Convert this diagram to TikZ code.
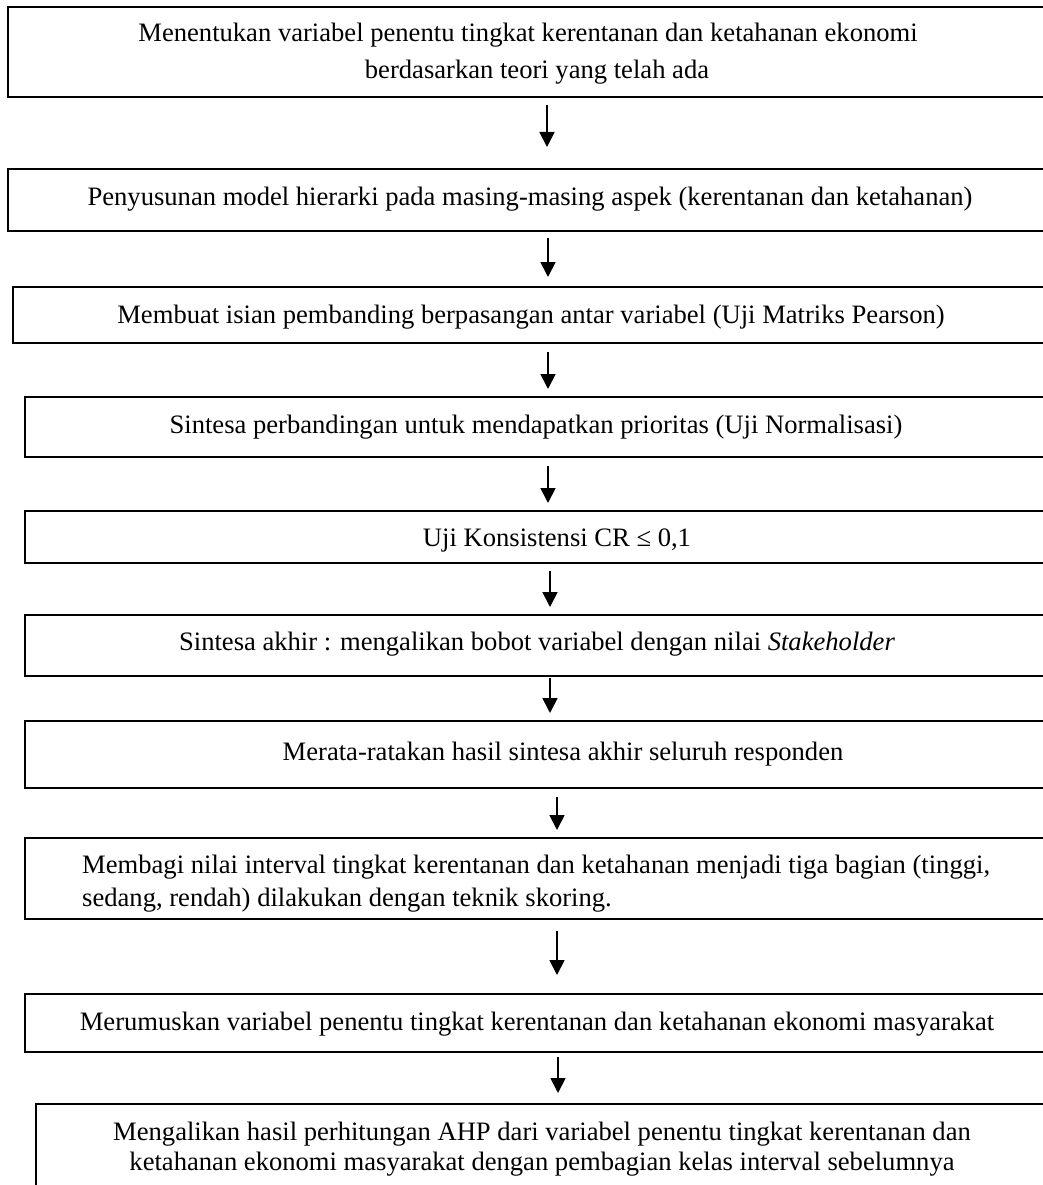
\documentclass[tikz,border=0pt]{standalone}
\usepackage{fontspec}
\setmainfont{Liberation Serif}
\usetikzlibrary{arrows.meta}
\begin{document}
\begin{tikzpicture}[x=1pt,y=-1pt,
  box/.style={draw, line width=1.5pt, anchor=north west, minimum width=1100pt, inner sep=0pt, outer sep=0pt},
  lbl/.style={font=\fontsize{26.6}{31}\selectfont, inner sep=0pt, anchor=base},
  lblw/.style={lbl, anchor=base west},
  flow/.style={-{Triangle[width=15pt,length=15pt]}, line width=1.8pt}]
\useasboundingbox (0,0) rectangle (1042,1185);
\fill[white] (0,0) rectangle (1042,1185);
% boxes
\node (b1)  [box, minimum height=90pt] at (8,7) {};
\node (b2)  [box, minimum height=62pt] at (8,169) {};
\node (b3)  [box, minimum height=56pt] at (13,287) {};
\node (b4)  [box, minimum height=60pt] at (25,397) {};
\node (b5)  [box, minimum height=52pt] at (25,511) {};
\node (b6)  [box, minimum height=61pt] at (25,615) {};
\node (b7)  [box, minimum height=67pt] at (25,721) {};
\node (b8)  [box, minimum height=81pt] at (25,838) {};
\node (b9)  [box, minimum height=58pt] at (25,994) {};
\node (b10) [box, minimum height=120pt] at (36,1104) {};
% texts
\node (t1a) [lbl] at (528,42) {Menentukan variabel penentu tingkat kerentanan dan ketahanan ekonomi};
\node (t1b) [lbl] at (537,79) {berdasarkan teori yang telah ada};
\node (t2)  [lbl] at (530,205) {Penyusunan model hierarki pada masing-masing aspek (kerentanan dan ketahanan)};
\node (t3)  [lbl] at (531,323) {Membuat isian pembanding berpasangan antar variabel (Uji Matriks Pearson)};
\node (t4)  [lbl] at (536,433) {Sintesa perbandingan untuk mendapatkan prioritas (Uji Normalisasi)};
\node (t5)  [lbl] at (557,546) {Uji Konsistensi CR ≤ 0,1};
\node (t6)  [lbl] at (537,650) {Sintesa akhir : mengalikan bobot variabel dengan nilai \textit{Stakeholder}};
\node (t7)  [lbl] at (563,760) {Merata-ratakan hasil sintesa akhir seluruh responden};
\node (t8a) [lblw] at (82,873) {Membagi nilai interval tingkat kerentanan dan ketahanan menjadi tiga bagian (tinggi,};
\node (t8b) [lblw] at (82,906) {sedang, rendah) dilakukan dengan teknik skoring.};
\node (t9)  [lbl] at (537,1030) {Merumuskan variabel penentu tingkat kerentanan dan ketahanan ekonomi masyarakat};
\node (t10a) [lbl] at (542,1140) {Mengalikan hasil perhitungan AHP dari variabel penentu tingkat kerentanan dan};
\node (t10b) [lbl] at (542,1170) {ketahanan ekonomi masyarakat dengan pembagian kelas interval sebelumnya};
% arrows
\coordinate (a1s) at (547,105);  \coordinate (a1e) at (547,147);
\coordinate (a2s) at (548,238);  \coordinate (a2e) at (548,277);
\coordinate (a3s) at (548,352);  \coordinate (a3e) at (548,389);
\coordinate (a4s) at (548,466);  \coordinate (a4e) at (548,503);
\coordinate (a5s) at (550,571);  \coordinate (a5e) at (550,607);
\coordinate (a6s) at (550,678);  \coordinate (a6e) at (550,713);
\coordinate (a7s) at (557,797);  \coordinate (a7e) at (557,830);
\coordinate (a8s) at (557,931);  \coordinate (a8e) at (557,975);
\coordinate (a9s) at (558,1057); \coordinate (a9e) at (558,1093);
\foreach \i in {1,...,9} { \draw[flow] (a\i s) -- (a\i e); }
\end{tikzpicture}
\end{document}
